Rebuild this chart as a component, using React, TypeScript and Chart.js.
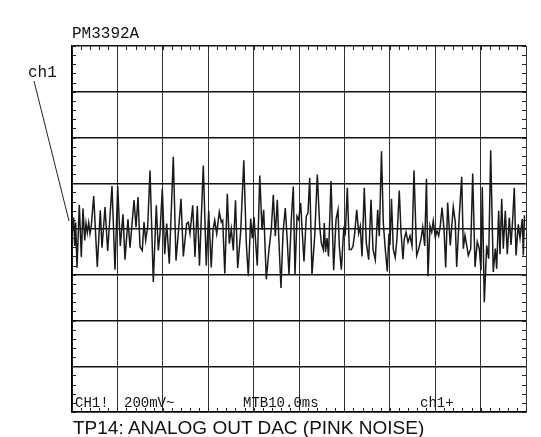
import React, { useEffect, useRef } from "react";
import { Chart, registerables } from "chart.js";

Chart.register(...registerables);

// Time axis: 10 divisions of 10 ms (MTB 10.0ms)
const TIME_MS: number[] = [
  0.15, 0.37, 0.59, 0.81, 1.10, 1.61, 2.05, 2.42, 2.80, 3.08, 3.37, 3.68, 3.96, 4.25, 4.78, 5.57, 6.23, 6.61, 7.27, 7.86,
  8.81, 9.47, 10.07, 10.64, 11.23, 11.67, 12.33, 12.78, 13.66, 14.10, 14.54, 14.98, 15.48, 15.86, 16.23, 16.67, 17.18, 17.91, 18.57, 19.01,
  19.38, 19.89, 20.42, 20.86, 21.43, 22.31, 22.91, 23.41, 24.01, 24.52, 25.26, 25.62, 25.99, 26.59, 27.09, 27.60, 28.08, 28.92, 29.58, 30.11,
  30.66, 31.06, 31.43, 31.87, 32.44, 32.89, 33.19, 33.66, 34.21, 34.65, 35.09, 35.53, 36.01, 36.50, 37.16, 37.84, 38.39, 38.83, 39.36, 39.71,
  40.09, 40.46, 40.81, 41.36, 41.85, 42.22, 42.80, 43.39, 43.90, 44.34, 44.78, 45.22, 45.59, 46.03, 46.48, 46.98, 47.36, 47.80, 48.30, 48.74,
  49.12, 49.56, 49.93, 50.37, 50.73, 51.10, 51.61, 51.98, 52.36, 52.86, 53.46, 54.03, 54.56, 54.91, 55.35, 55.57, 55.84, 56.17, 56.50, 57.05,
  57.64, 58.15, 58.59, 58.88, 59.32, 59.85, 60.20, 60.64, 61.08, 61.52, 61.89, 62.27, 62.71, 63.15, 63.50, 63.88, 64.38, 64.82, 65.35, 65.86,
  66.30, 66.81, 67.33, 67.69, 68.17, 68.57, 69.01, 69.45, 69.82, 70.04, 70.37, 70.77, 71.19, 71.58, 72.09, 72.47, 72.91, 73.19, 73.57, 74.01,
  74.45, 74.89, 75.33, 75.92, 76.36, 76.87, 77.25, 77.69, 78.08, 78.41, 78.85, 79.23, 79.58, 80.02, 80.40, 80.77, 81.12, 81.50, 81.94, 82.31,
  82.75, 83.32, 83.98, 84.42, 84.73, 85.31, 85.84, 86.19, 86.56, 86.94, 87.29, 87.82, 88.26, 88.77, 89.27, 89.71, 90.09, 90.37, 90.81, 91.34,
  91.78, 92.22, 92.79, 93.24, 93.54, 93.98, 94.27, 94.65, 95.00, 95.44, 95.88, 96.32, 96.70, 97.07, 97.42, 97.80, 98.30, 98.68, 99.19, 99.41,
  99.67,
];

// Channel 1 level in mV (200 mV / division)
const LEVEL_MV: number[] = [
  -8, 50, -74, 28, -170, 106, -122, 90, -50, 24, -16, 28, -20, 14, 144, -166, 82, -82, 96, -96,
  188, -178, 188, -74, 64, -134, 42, -82, 126, 8, 140, -78, -94, 30, -50, 10, 256, -232, 104, -94,
  -20, 176, -110, 24, -152, 316, -138, -20, 132, -120, 24, 30, -20, 104, -122, 100, -160, 278, -160, 80,
  -168, -6, 38, -20, 74, 30, 38, -194, 154, -64, 0, -94, 126, -170, -10, 300, -60, -206, 46, -40,
  52, -60, -160, 234, -4, 84, -220, -90, 0, 150, -32, 128, -60, -258, -18, 92, -32, -200, 40, 186,
  -200, 56, 40, 114, -18, -142, 56, 70, 224, -200, -32, 238, 12, -60, -90, 26, -100, -40, -120, 210,
  -180, 40, 84, -76, -178, 0, -18, 180, -90, -90, -76, -18, 84, -18, 12, -120, 180, -60, -134, 128,
  -90, -134, 84, -32, 340, 26, -90, -186, -20, -70, 132, -88, -124, -44, 168, -14, -132, -44, -14, -58,
  -30, -74, 256, -116, -88, -44, 8, -74, 220, -206, 14, -14, 36, -36, -8, -30, 14, 94, 0, -168,
  116, -72, 96, 30, -166, 60, 228, -86, -28, -72, -116, -86, 242, -166, -56, -86, -180, 184, -320, -72,
  -130, 344, -188, -86, -174, 80, -110, 132, -86, 80, -110, 50, -70, 44, 180, -116, 20, -40, 44, -116,
  60,
];

const X_DIV_MS = 10;
const Y_DIV_MV = 200;
const X_MAX_MS = 100;
const Y_LIMIT_MV = 800;

const minorTicks = {
  id: "minorTicks",
  afterDraw(chart: any) {
    const { ctx, chartArea, scales } = chart;
    const xs = scales.x;
    const ys = scales.y;
    ctx.save();
    ctx.strokeStyle = "#222";
    ctx.lineWidth = 1;
    ctx.beginPath();
    const len = 4;
    for (let t = 0; t <= X_MAX_MS + 1e-6; t += X_DIV_MS / 5) {
      const px = Math.round(xs.getPixelForValue(t)) + 0.5;
      ctx.moveTo(px, chartArea.top);
      ctx.lineTo(px, chartArea.top + len);
      ctx.moveTo(px, chartArea.bottom);
      ctx.lineTo(px, chartArea.bottom - len);
    }
    for (let v = -Y_LIMIT_MV; v <= Y_LIMIT_MV + 1e-6; v += Y_DIV_MV / 5) {
      const py = Math.round(ys.getPixelForValue(v)) + 0.5;
      ctx.moveTo(chartArea.left, py);
      ctx.lineTo(chartArea.left + len, py);
      ctx.moveTo(chartArea.right, py);
      ctx.lineTo(chartArea.right - len, py);
    }
    ctx.stroke();
    ctx.restore();
  },
};

const mono = "'Liberation Mono', 'DejaVu Sans Mono', monospace";

function Label(props: { x: number; y: number; size: number; family: string; text: string }) {
  return (
    <div
      style={{
        position: "absolute",
        left: props.x,
        top: props.y,
        fontFamily: props.family,
        fontSize: props.size,
        lineHeight: 1,
        whiteSpace: "pre",
        color: "#111",
      }}
    >
      {props.text}
    </div>
  );
}

export default function App() {
  const ref = useRef<HTMLCanvasElement | null>(null);

  useEffect(() => {
    if (!ref.current) return;
    const points = TIME_MS.map((t, i) => ({ x: t, y: LEVEL_MV[i] }));
    const chart = new Chart(ref.current, {
      type: "line",
      data: {
        datasets: [
          {
            label: "ch1",
            data: points,
            borderColor: "#1a1a1a",
            borderWidth: 1.5,
            pointRadius: 0,
            tension: 0,
            fill: false,
          },
        ],
      },
      options: {
        animation: false,
        responsive: false,
        maintainAspectRatio: false,
        layout: { padding: { left: 72, right: 15, top: 46, bottom: 25 } },
        plugins: { legend: { display: false }, tooltip: { enabled: false } },
        scales: {
          x: {
            type: "linear",
            min: 0,
            max: X_MAX_MS,
            ticks: { display: false, stepSize: X_DIV_MS },
            grid: { color: "#333", lineWidth: 1, drawTicks: false },
            border: { display: true, color: "#000", width: 1.5 },
          },
          y: {
            type: "linear",
            min: -Y_LIMIT_MV,
            max: Y_LIMIT_MV,
            ticks: { display: false, stepSize: Y_DIV_MV },
            grid: { color: "#111", lineWidth: 1.4, drawTicks: false },
            border: { display: true, color: "#000", width: 1.5 },
          },
        },
      },
      plugins: [minorTicks],
    });
    return () => chart.destroy();
  }, []);

  return (
    <div style={{ position: "absolute", left: 0, top: 0, width: 541, height: 437, background: "#fff", overflow: "hidden" }}>
      <canvas ref={ref} width={541} height={437} style={{ position: "absolute", left: 0, top: 0 }} />
      <svg width={541} height={437} style={{ position: "absolute", left: 0, top: 0 }}>
        <line x1={34} y1={81} x2={69} y2={221} stroke="#222" strokeWidth={1} />
      </svg>
      <Label x={72} y={26} size={16} family={mono} text="PM3392A" />
      <Label x={28} y={65} size={16} family={mono} text="ch1" />
      <Label x={75} y={396} size={14} family={mono} text="CH1!" />
      <Label x={124} y={396} size={14} family={mono} text="200mV~" />
      <Label x={243} y={396} size={14} family={mono} text="MTB10.0ms" />
      <Label x={420} y={396} size={14} family={mono} text="ch1+" />
      <Label x={73} y={418} size={19} family={"'Liberation Sans', Arial, sans-serif"} text="TP14: ANALOG OUT DAC (PINK NOISE)" />
    </div>
  );
}
